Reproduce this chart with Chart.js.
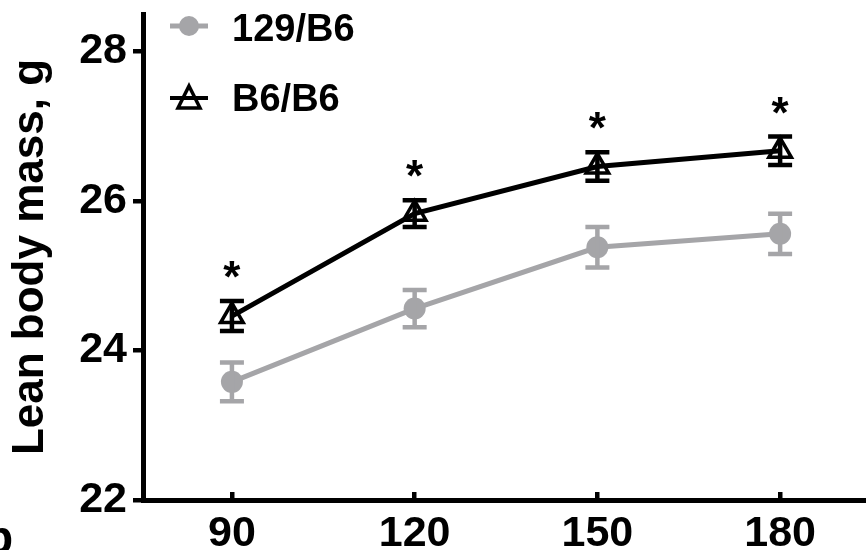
<!DOCTYPE html>
<html>
<head>
<meta charset="utf-8">
<script src="https://cdn.jsdelivr.net/npm/chart.js@4"></script>
<style>
  html, body { margin: 0; padding: 0; background: #fff; }
  #wrap { width: 866px; height: 550px; position: relative; }
</style>
</head>
<body>
<div id="wrap"><canvas id="leanChart" width="866" height="550"></canvas></div>
<script>
// days on diet (x) and lean body mass (g) with SEM
const days = [90, 120, 150, 180];
const xTicks = [90, 120, 150, 180];
const yTicks = [22, 24, 26, 28];
const mass129 = [23.58, 24.56, 25.38, 25.56];
const sem129 = [0.26, 0.25, 0.27, 0.27];
const massB6 = [24.46, 25.83, 26.46, 26.67];
const semB6 = [0.2, 0.18, 0.19, 0.19];
const stars = ['*', '*', '*', '*'];
const names = ['129/B6', 'B6/B6'];

const FONT = "'Liberation Sans', Arial, sans-serif";
const GRAY = '#a5a5a8';

const toPts = (ys) => days.map((d, i) => ({ x: d, y: ys[i] }));

// error bars + asterisks drawn through the chart's own scales
const errorBars = {
    id: 'errorBars',
    afterDatasetsDraw(chart) {
        const { ctx, scales: { x, y } } = chart;
        const sets = [[mass129, sem129, GRAY], [massB6, semB6, '#000']];
        ctx.save();
        sets.forEach(([m, s, col]) => {
            ctx.strokeStyle = col;
            ctx.lineWidth = 4.5;
            ctx.lineCap = 'butt';
            days.forEach((d, i) => {
                const px = x.getPixelForValue(d);
                const top = y.getPixelForValue(m[i] + s[i]);
                const bot = y.getPixelForValue(m[i] - s[i]);
                ctx.beginPath();
                ctx.moveTo(px, top); ctx.lineTo(px, bot);
                ctx.moveTo(px - 12, top); ctx.lineTo(px + 12, top);
                ctx.moveTo(px - 12, bot); ctx.lineTo(px + 12, bot);
                ctx.stroke();
            });
        });
        // significance marks above B6/B6
        ctx.fillStyle = '#000';
        ctx.font = 'bold 44px ' + FONT;
        ctx.textAlign = 'center';
        ctx.textBaseline = 'alphabetic';
        days.forEach((d, i) => {
            if (!stars[i]) return;
            const px = x.getPixelForValue(d);
            const top = y.getPixelForValue(massB6[i] + semB6[i]);
            ctx.fillText(stars[i], px, top - 9);
        });
        ctx.restore();
    }
};

// legend stacked in the upper-left of the plot, plus stray panel letter
const legendBox = {
    id: 'legendBox',
    afterDraw(chart) {
        const { ctx } = chart;
        ctx.save();
        // 129/B6
        ctx.strokeStyle = GRAY; ctx.lineWidth = 5;
        ctx.beginPath(); ctx.moveTo(170, 26); ctx.lineTo(208, 26); ctx.stroke();
        ctx.fillStyle = GRAY;
        ctx.beginPath(); ctx.arc(189, 26, 10, 0, Math.PI * 2); ctx.fill();
        // B6/B6
        ctx.strokeStyle = '#000'; ctx.lineWidth = 4;
        ctx.beginPath(); ctx.moveTo(170, 98); ctx.lineTo(208, 98); ctx.stroke();
        ctx.lineWidth = 3.5;
        ctx.beginPath();
        ctx.moveTo(189, 86); ctx.lineTo(200, 108); ctx.lineTo(178, 108); ctx.closePath();
        ctx.stroke();
        ctx.fillStyle = '#000';
        ctx.font = 'bold 38px ' + FONT;
        ctx.textAlign = 'left';
        ctx.textBaseline = 'alphabetic';
        ctx.fillText(names[0], 232, 41);
        ctx.fillText(names[1], 232, 111);
        ctx.font = 'bold 46px ' + FONT;
        ctx.fillText('b', -15, 553);
        ctx.restore();
    }
};

const ctx = document.getElementById('leanChart').getContext('2d');
const leanChart = new Chart(ctx, {
    type: 'line',
    data: {
        datasets: [{
            label: names[0],
            data: toPts(mass129),
            borderColor: GRAY,
            backgroundColor: GRAY,
            borderWidth: 5,
            pointStyle: 'circle',
            pointRadius: 11,
            pointBorderWidth: 0,
            pointBackgroundColor: GRAY,
            tension: 0
        }, {
            label: names[1],
            data: toPts(massB6),
            borderColor: '#000',
            backgroundColor: 'rgba(0,0,0,0)',
            borderWidth: 5,
            pointStyle: 'triangle',
            pointRadius: 13,
            pointBorderWidth: 3.5,
            pointBorderColor: '#000',
            pointBackgroundColor: 'rgba(0,0,0,0)',
            tension: 0
        }]
    },
    options: {
        responsive: false,
        animation: false,
        layout: { autoPadding: false, padding: { top: 14, right: 0, left: 0, bottom: 0 } },
        plugins: {
            legend: { display: false },
            tooltip: { enabled: false }
        },
        scales: {
            x: {
                type: 'linear',
                min: 75.4,
                max: 194.1,
                afterBuildTicks: (s) => { s.ticks = xTicks.map(v => ({ value: v })); },
                afterFit: (s) => { s.height = 50; s.paddingLeft = 0; s.paddingRight = 0; },
                border: { display: true, color: '#000', width: 5 },
                grid: { drawOnChartArea: false, drawTicks: true, tickLength: -8, color: '#000', lineWidth: 4.5 },
                ticks: {
                    color: '#000',
                    padding: 16,
                    maxRotation: 0,
                    font: { family: FONT, size: 43, weight: 'bold' }
                }
            },
            y: {
                min: 22,
                max: 28.5,
                afterBuildTicks: (s) => { s.ticks = yTicks.map(v => ({ value: v })); },
                afterFit: (s) => { s.width = 143; s.paddingTop = 0; s.paddingBottom = 0; },
                border: { display: true, color: '#000', width: 5 },
                grid: { drawOnChartArea: false, drawTicks: true, tickLength: 10, color: '#000', lineWidth: 4.5 },
                ticks: {
                    color: '#000',
                    padding: 6,
                    font: { family: FONT, size: 43, weight: 'bold' }
                },
                title: {
                    display: true,
                    text: 'Lean body mass, g',
                    color: '#000',
                    padding: { top: 4, bottom: 0 },
                    font: { family: FONT, size: 44, weight: 'bold' }
                }
            }
        }
    },
    plugins: [errorBars, legendBox]
});
</script>
</body>
</html>
